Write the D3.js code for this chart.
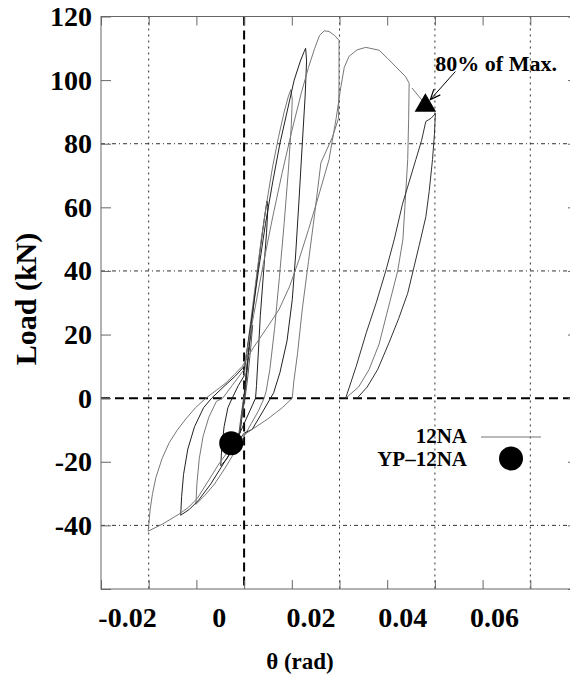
<!DOCTYPE html>
<html>
<head>
<meta charset="utf-8">
<script src="https://cdn.jsdelivr.net/npm/d3@7"></script>
<style>
  html, body { margin: 0; padding: 0; background: #fff; overflow: hidden; }
</style>
</head>
<body>
<svg id="chart" width="570" height="677"></svg>
<script>
// Hysteresis loops: [rotation (rad), load (kN)]
const loop1 = [[0,0],[0.0004,7],[0.0008,13],[0.001,16],[0.0007,10],[0.0002,2],[-0.0003,-4],[-0.0007,-9],[-0.0009,-11],[-0.0006,-7],[-0.0002,-2],[0,0]];
const loop2 = [[0,0],[0.0006,10],[0.0012,18],[0.0018,23],[0.0014,16],[0.0008,7],[0.0002,0],[-0.0005,-6],[-0.0011,-12],[-0.0014,-15],[-0.001,-10],[-0.0004,-3],[0,1]];
const loop3 = [[0,1],[0.0008,12],[0.0016,24],[0.0025,36],[0.0034,47],[0.0042,56],[0.0048,62],[0.005,60],[0.0047,52],[0.0041,40],[0.0034,26],[0.0029,12],[0.0026,4],[0.0024,0],[0.0012,-4],[0,-8],[-0.0012,-12],[-0.0024,-16],[-0.0036,-19],[-0.0049,-21.3],[-0.0047,-16],[-0.0042,-9],[-0.0034,-3],[-0.0025,0],[-0.0012,4],[0,7]];
const loop4 = [[0,7],[0.0012,22],[0.0024,36],[0.0036,50],[0.0048,62],[0.006,73],[0.0072,82],[0.0084,90],[0.0093,95],[0.0098,97],[0.0101,94],[0.0099,86],[0.0093,72],[0.0084,55],[0.0074,38],[0.0064,22],[0.0054,9],[0.0046,2],[0.0042,0],[0.003,-4],[0.0015,-8],[0,-12],[-0.002,-17],[-0.004,-22],[-0.0062,-27],[-0.0082,-30.5],[-0.0101,-33.4],[-0.0099,-27],[-0.0094,-19],[-0.0086,-12],[-0.0074,-6],[-0.0058,-1],[-0.0045,0],[-0.0025,4],[0,9]];
const loop5 = [[0,9],[0.0015,24],[0.003,40],[0.0045,55],[0.006,68],[0.0075,80],[0.009,90],[0.0105,100],[0.0118,106],[0.0126,109],[0.0129,110],[0.0131,106],[0.0128,95],[0.0122,80],[0.0115,62],[0.0108,45],[0.0101,31],[0.009,18],[0.0075,8],[0.0062,1.7],[0.004,-4],[0.0017,-9.8],[0,-11],[-0.002,-15],[-0.0045,-21],[-0.007,-27],[-0.0095,-32],[-0.0115,-35],[-0.0133,-36.8],[-0.0131,-31],[-0.0127,-24],[-0.0118,-16],[-0.0104,-9],[-0.0085,-3],[-0.0068,0],[-0.004,4],[-0.0018,7],[0,10]];
const loop6 = [[0,10],[0.002,26],[0.004,42],[0.006,57],[0.008,71],[0.01,84],[0.012,96],[0.0135,104],[0.0148,110],[0.0158,114],[0.0168,115.5],[0.0178,115.3],[0.019,114],[0.0199,112.5],[0.0199,100],[0.0198,88],[0.0185,82],[0.017,77],[0.0161,74],[0.0148,58],[0.0135,43],[0.0122,28],[0.0112,14],[0.0104,5],[0.0101,0],[0.008,-3],[0.005,-6.5],[0.002,-9.5],[0,-11.5],[-0.0017,-13.5],[-0.0035,-17],[-0.0053,-20.7],[-0.0075,-26],[-0.0098,-31.5],[-0.0118,-34.5],[-0.0137,-36.5],[-0.017,-39.5],[-0.0201,-41.8],[-0.0197,-35],[-0.0192,-30],[-0.0185,-25],[-0.0172,-19],[-0.0157,-14],[-0.014,-10],[-0.0122,-6.5],[-0.0102,-3],[-0.008,0],[-0.0058,2.5],[-0.0038,4.8],[-0.002,7.5],[-0.0004,10]];
const loop7 = [[-0.0004,10],[0.002,16],[0.0045,21.5],[0.0073,27.8],[0.0095,35],[0.0115,43.5],[0.0135,53],[0.0155,63],[0.0178,75],[0.0193,88],[0.0203,98],[0.021,104],[0.022,107.5],[0.0237,109.5],[0.0255,110.3],[0.0283,109.4],[0.0301,106.8],[0.0318,104.2],[0.0339,101],[0.0346,99],[0.0345,88],[0.0343,75],[0.0337,60],[0.0333,50],[0.0322,40],[0.0305,30],[0.0283,17],[0.0262,9],[0.024,3.5],[0.0213,0]];
const loop8 = [[0.0213,0],[0.0235,10],[0.0256,20.5],[0.0277,30],[0.0297,40],[0.0315,50],[0.0332,61],[0.0346,68],[0.036,75],[0.0372,81],[0.0381,87],[0.0392,88],[0.0401,89.5],[0.0399,83],[0.0395,75],[0.0388,65],[0.0381,57],[0.0367,48],[0.0343,33],[0.0324,25],[0.0304,17.5],[0.028,9],[0.0258,3.5],[0.0237,0]];
const tailSegment = [[0.0352,97.5],[0.0374,93.5]];

const loops = [loop1, loop2, loop3, loop4, loop5, loop6, loop7, loop8, tailSegment];
const loopColors = ["#222", "#555", "#222", "#777", "#222", "#777", "#777", "#333", "#777"];

const seriesNames = ["12NA", "YP\u201312NA"];
const ypPoint = [[-0.0027, -14.2]];      // YP-12NA marker
const maxPoint80 = [[0.038, 92]];        // 80% of max load
const annotationText = "80% of Max.";

const xTicks = [-0.03, -0.02, -0.01, 0, 0.01, 0.02, 0.03, 0.04, 0.05, 0.06, 0.07];
const xLabels = [-0.02, 0, 0.02, 0.04, 0.06];
const yTicks = [-60, -40, -20, 0, 20, 40, 60, 80, 100, 120];
const yLabels = [-40, -20, 0, 20, 40, 60, 80, 100, 120];
const xGrid = [-0.02, 0.02, 0.04, 0.06];
const yGrid = [-40, 40, 80];

const FONT = "'Liberation Serif', 'DejaVu Serif', serif";

const svg = d3.select("#chart");

const x = d3.scaleLinear().domain([-0.03, 0.07]).range([101, 578]);
const y = d3.scaleLinear().domain([-60, 120]).range([589, 16.5]);
// the original figure prints its x labels slightly left of their ticks
const xLabelPos = d3.scaleLinear().domain([-0.02, 0.06]).range([127, 494]);

// grid
svg.append("g").selectAll("line").data(xGrid).enter().append("line")
  .attr("x1", d => x(d)).attr("x2", d => x(d))
  .attr("y1", y(120)).attr("y2", y(-60))
  .attr("stroke", "#333").attr("stroke-width", 1).attr("stroke-dasharray", "2,4");
svg.append("g").selectAll("line").data(yGrid).enter().append("line")
  .attr("x1", x(-0.03)).attr("x2", x(0.07))
  .attr("y1", d => y(d)).attr("y2", d => y(d))
  .attr("stroke", "#333").attr("stroke-width", 1).attr("stroke-dasharray", "4,3,1,3");

// zero lines
svg.append("line")
  .attr("x1", x(0)).attr("x2", x(0)).attr("y1", y(120)).attr("y2", y(-60))
  .attr("stroke", "#000").attr("stroke-width", 2).attr("stroke-dasharray", "9,5");
svg.append("line")
  .attr("x1", x(-0.03)).attr("x2", x(0.07)).attr("y1", y(0)).attr("y2", y(0))
  .attr("stroke", "#000").attr("stroke-width", 2).attr("stroke-dasharray", "9,5");

// frame
svg.append("rect")
  .attr("x", x(-0.03)).attr("y", y(120))
  .attr("width", x(0.07) - x(-0.03)).attr("height", y(-60) - y(120))
  .attr("fill", "none").attr("stroke", "#666").attr("stroke-width", 1);

// axes
const fmt = d => String(d);
const xAxis = svg.append("g")
  .attr("transform", `translate(0,${y(-60)})`)
  .call(d3.axisBottom(x).tickValues(xTicks).tickSizeInner(-9).tickSizeOuter(0).tickPadding(18)
    .tickFormat(d => xLabels.some(v => Math.abs(v - d) < 1e-9) ? fmt(+d.toFixed(2)) : ""));
xAxis.selectAll(".tick text")
  .attr("dx", d => xLabelPos(d) - x(d));
const xAxisTop = svg.append("g")
  .attr("transform", `translate(0,${y(120)})`)
  .call(d3.axisTop(x).tickValues(xTicks).tickSizeInner(-9).tickSizeOuter(0).tickFormat(""));
const yAxis = svg.append("g")
  .attr("transform", `translate(${x(-0.03)},0)`)
  .call(d3.axisLeft(y).tickValues(yTicks).tickSizeInner(-10).tickSizeOuter(0).tickPadding(9)
    .tickFormat(d => yLabels.includes(d) ? fmt(d) : ""));
const yAxisRight = svg.append("g")
  .attr("transform", `translate(${x(0.07)},0)`)
  .call(d3.axisRight(y).tickValues(yTicks).tickSizeInner(-10).tickSizeOuter(0).tickFormat(""));

[xAxis, xAxisTop, yAxis, yAxisRight].forEach(g => {
  g.attr("font-family", FONT).attr("font-size", 28);
  g.select(".domain").remove();
  g.selectAll(".tick line").attr("stroke", "#666");
  g.selectAll("text").attr("fill", "#000").style("font-family", FONT)
    .style("font-weight", "bold").style("font-size", "28px");
});

// loops
const line = d3.line().x(d => x(d[0])).y(d => y(d[1]));
svg.append("g").selectAll("path").data(loops).enter().append("path")
  .attr("d", line)
  .attr("fill", "none")
  .attr("stroke", (d, i) => loopColors[i])
  .attr("stroke-width", 1)
  .attr("stroke-linejoin", "round");

// markers
svg.append("g").selectAll("circle").data(ypPoint).enter().append("circle")
  .attr("cx", d => x(d[0])).attr("cy", d => y(d[1])).attr("r", 12).attr("fill", "#000");
svg.append("g").selectAll("path").data(maxPoint80).enter().append("path")
  .attr("transform", d => `translate(${x(d[0])},${y(d[1])})`)
  .attr("d", d3.symbol(d3.symbolTriangle, 200))
  .attr("fill", "#000");

function label(sel, size) {
  return sel.style("font-family", FONT).style("font-weight", "bold")
    .style("font-size", size + "px").attr("fill", "#000");
}

// annotation with arrow
const tx = x(maxPoint80[0][0]), ty = y(maxPoint80[0][1]);
label(svg.append("text").attr("x", tx + 10).attr("y", ty - 35), 22).text(annotationText);
const tip = [tx + 5, ty - 6], tail = [tx + 30, ty - 34];
svg.append("line")
  .attr("x1", tail[0]).attr("y1", tail[1]).attr("x2", tip[0]).attr("y2", tip[1])
  .attr("stroke", "#000").attr("stroke-width", 1);
const ang = Math.atan2(tip[1] - tail[1], tip[0] - tail[0]);
const head = [ang + Math.PI - 0.4, ang + Math.PI + 0.4].map(a => [tip[0] + 11 * Math.cos(a), tip[1] + 11 * Math.sin(a)]);
svg.append("path")
  .attr("d", `M${head[0]}L${tip}L${head[1]}`)
  .attr("fill", "none").attr("stroke", "#000").attr("stroke-width", 1.2);

// axis titles
label(svg.append("text")
  .attr("transform", "translate(36,299) rotate(-90)")
  .attr("text-anchor", "middle"), 30).text("Load (kN)");
label(svg.append("text")
  .attr("x", 300).attr("y", 669)
  .attr("text-anchor", "middle"), 23).text("\u03b8 (rad)");

// legend
const legend = svg.append("g");
label(legend.append("text").attr("x", 467).attr("y", 443).attr("text-anchor", "end"), 21).text(seriesNames[0]);
legend.append("line").attr("x1", 481).attr("x2", 541).attr("y1", 437).attr("y2", 437)
  .attr("stroke", "#777").attr("stroke-width", 1.2);
label(legend.append("text").attr("x", 467).attr("y", 466).attr("text-anchor", "end"), 21).text(seriesNames[1]);
legend.append("circle").attr("cx", 511).attr("cy", 458.5).attr("r", 12).attr("fill", "#000");
</script>
</body>
</html>
